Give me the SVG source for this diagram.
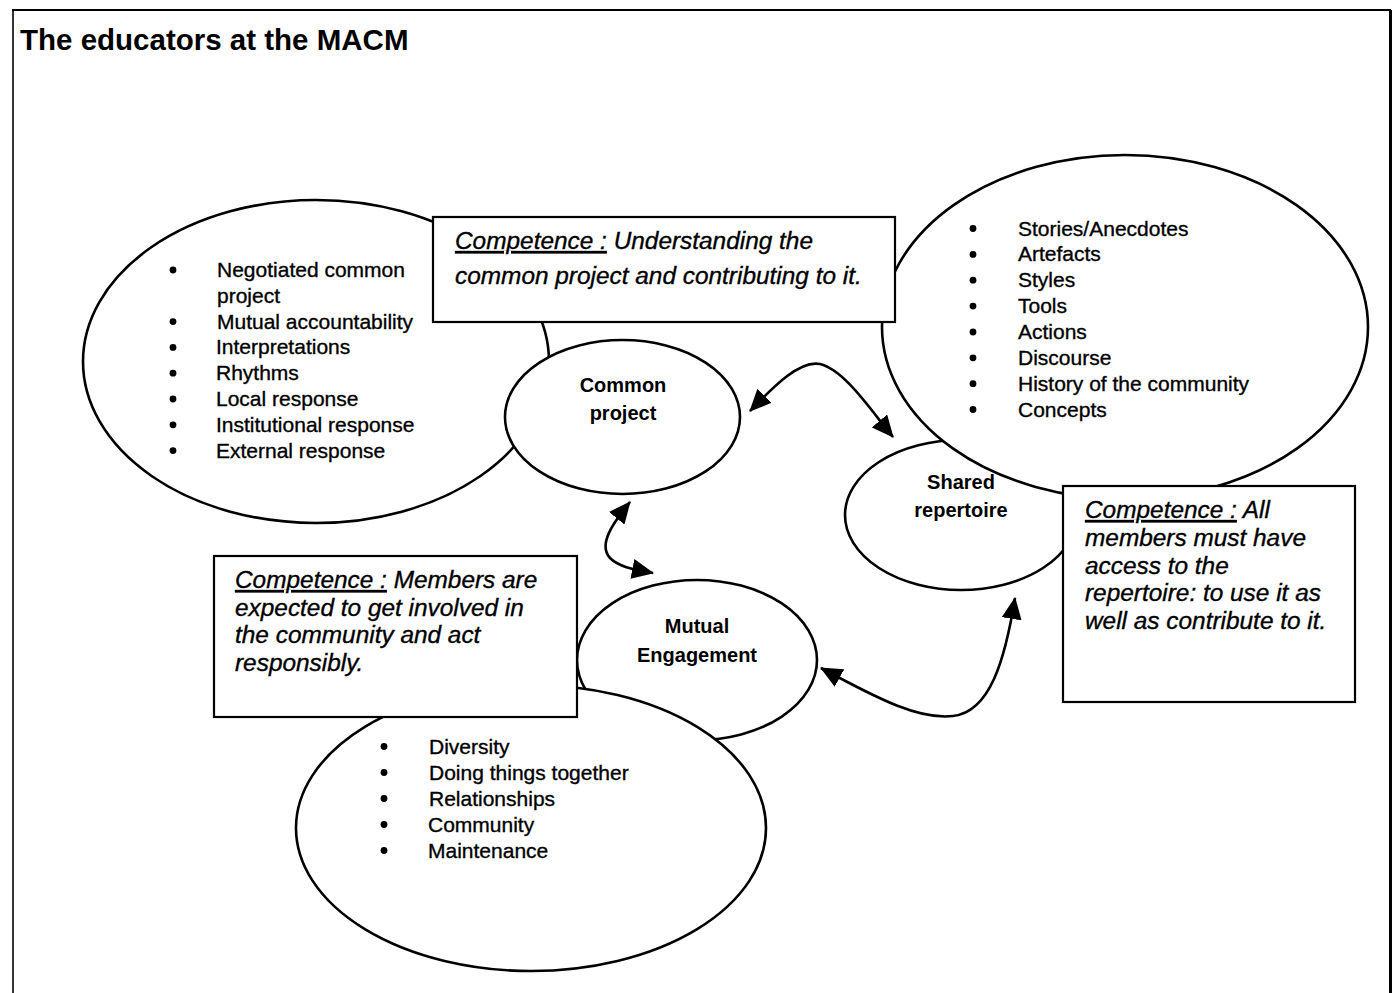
<svg xmlns="http://www.w3.org/2000/svg" width="1397" height="993" viewBox="0 0 1397 993">
  <style>
    .frame { stroke: #000; fill: none; }
    .oval { fill: #fff; stroke: #000; stroke-width: 2.6; }
    .box { fill: #fff; stroke: #000; stroke-width: 2.2; }
    .title { font-family: "Liberation Sans", Arial, sans-serif; font-weight: bold; font-size: 29.5px; fill: #000; }
    .label { font-family: "Liberation Sans", Arial, sans-serif; font-weight: bold; font-size: 20px; fill: #000; text-anchor: middle; }
    .item { font-family: "Liberation Sans", Arial, sans-serif; font-size: 21px; fill: #000; stroke: #000; stroke-width: 0.35; }
    .note { font-family: "Liberation Sans", Arial, sans-serif; font-style: italic; font-size: 24.4px; fill: #000; stroke: #000; stroke-width: 0.35; }
    .u { text-decoration: underline; }
    .dot { fill: #000; }
    .link { fill: none; stroke: #000; stroke-width: 2.6; marker-start: url(#head); marker-end: url(#head); }
  </style>
  <defs>
    <marker id="head" markerUnits="userSpaceOnUse" markerWidth="22" markerHeight="20" viewBox="0 0 22 20" refX="21" refY="10" orient="auto-start-reverse">
      <path d="M0,0 L22,10 L0,20 Z" fill="#000"/>
    </marker>
    <!-- everything except the interior of the repertoire list oval -->
    <clipPath id="outsideRepertoire">
      <path clip-rule="evenodd" d="M0,0 H1397 V993 H0 Z M882,327 A243,172 0 1,0 1368,327 A243,172 0 1,0 882,327 Z"/>
    </clipPath>
  </defs>

  <rect width="1397" height="993" fill="#fff"/>

  <!-- outer frame (open at the bottom) -->
  <g id="frame">
    <line class="frame" x1="12" y1="10" x2="1391" y2="10" stroke-width="2"/>
    <line class="frame" x1="13" y1="10" x2="13" y2="993" stroke-width="1.6"/>
    <line class="frame" x1="1390.5" y1="10" x2="1390.5" y2="993" stroke-width="3"/>
    <text class="title" x="20" y="50">The educators at the MACM</text>
  </g>

  <!-- joint enterprise characteristics -->
  <g id="node-enterprise-list">
    <ellipse class="oval" cx="316" cy="361.5" rx="233" ry="161.5"/>
    <circle class="dot" cx="173" cy="270" r="3.4"/>
    <circle class="dot" cx="173" cy="321.6" r="3.4"/>
    <circle class="dot" cx="173" cy="347.4" r="3.4"/>
    <circle class="dot" cx="173" cy="373.2" r="3.4"/>
    <circle class="dot" cx="173" cy="399" r="3.4"/>
    <circle class="dot" cx="173" cy="424.8" r="3.4"/>
    <circle class="dot" cx="173" cy="450.6" r="3.4"/>
    <text class="item" x="217" y="277">Negotiated common</text>
    <text class="item" x="217" y="302.8">project</text>
    <text class="item" x="217" y="328.6">Mutual accountability</text>
    <text class="item" x="216" y="354.4">Interpretations</text>
    <text class="item" x="216" y="380.2">Rhythms</text>
    <text class="item" x="216" y="406">Local response</text>
    <text class="item" x="216" y="431.8">Institutional response</text>
    <text class="item" x="216" y="457.6">External response</text>
  </g>

  <g id="node-common-project">
    <ellipse class="oval" cx="622.5" cy="417" rx="117.5" ry="77"/>
    <text class="label" x="623" y="392">Common</text>
    <text class="label" x="623" y="420">project</text>
  </g>

  <!-- shared repertoire characteristics -->
  <g id="node-repertoire-list">
    <ellipse class="oval" cx="1125" cy="327" rx="243" ry="172"/>
    <circle class="dot" cx="973" cy="228.5" r="3.4"/>
    <circle class="dot" cx="973" cy="254.4" r="3.4"/>
    <circle class="dot" cx="973" cy="280.2" r="3.4"/>
    <circle class="dot" cx="973" cy="306.1" r="3.4"/>
    <circle class="dot" cx="973" cy="332" r="3.4"/>
    <circle class="dot" cx="973" cy="357.8" r="3.4"/>
    <circle class="dot" cx="973" cy="383.7" r="3.4"/>
    <circle class="dot" cx="973" cy="409.5" r="3.4"/>
    <text class="item" x="1018" y="235.5">Stories/Anecdotes</text>
    <text class="item" x="1018" y="261.4">Artefacts</text>
    <text class="item" x="1018" y="287.2">Styles</text>
    <text class="item" x="1018" y="313.1">Tools</text>
    <text class="item" x="1018" y="339">Actions</text>
    <text class="item" x="1018" y="364.8">Discourse</text>
    <text class="item" x="1018" y="390.7">History of the community</text>
    <text class="item" x="1018" y="416.5">Concepts</text>
  </g>

  <g id="node-shared-repertoire">
    <ellipse class="oval" cx="961" cy="515" rx="116" ry="75" style="fill:none" clip-path="url(#outsideRepertoire)"/>
    <text class="label" x="961" y="489">Shared</text>
    <text class="label" x="961" y="517">repertoire</text>
  </g>

  <g id="node-competence-project">
    <rect class="box" x="433" y="217" width="462" height="105"/>
    <text class="note" x="455" y="249"><tspan class="u">Competence :</tspan> Understanding the</text>
    <text class="note" x="455" y="284">common project and contributing to it.</text>
  </g>

  <g id="node-competence-repertoire">
    <rect class="box" x="1063" y="486" width="292" height="216"/>
    <text class="note" x="1085" y="518"><tspan class="u">Competence :</tspan> All</text>
    <text class="note" x="1085" y="546">members must have</text>
    <text class="note" x="1085" y="573.5">access to the</text>
    <text class="note" x="1085" y="601">repertoire: to use it as</text>
    <text class="note" x="1085" y="629">well as contribute to it.</text>
  </g>

  <g id="node-mutual-engagement">
    <ellipse class="oval" cx="697" cy="660" rx="120" ry="80"/>
    <text class="label" x="697" y="633">Mutual</text>
    <text class="label" x="697" y="662">Engagement</text>
  </g>

  <!-- mutual engagement characteristics -->
  <g id="node-engagement-list">
    <ellipse class="oval" cx="531" cy="828" rx="235" ry="143"/>
    <circle class="dot" cx="384" cy="746.5" r="3.4"/>
    <circle class="dot" cx="384" cy="772.5" r="3.4"/>
    <circle class="dot" cx="384" cy="798.5" r="3.4"/>
    <circle class="dot" cx="384" cy="824.5" r="3.4"/>
    <circle class="dot" cx="384" cy="850.5" r="3.4"/>
    <text class="item" x="429" y="753.5">Diversity</text>
    <text class="item" x="429" y="779.5">Doing things together</text>
    <text class="item" x="429" y="805.5">Relationships</text>
    <text class="item" x="428" y="831.5">Community</text>
    <text class="item" x="428" y="857.5">Maintenance</text>
  </g>

  <g id="node-competence-engagement">
    <rect class="box" x="214" y="556" width="363" height="161"/>
    <text class="note" x="235" y="588"><tspan class="u">Competence :</tspan> Members are</text>
    <text class="note" x="235" y="615.5">expected to get involved in</text>
    <text class="note" x="235" y="643">the community and act</text>
    <text class="note" x="235" y="671">responsibly.</text>
  </g>

  <!-- double-headed curved connectors -->
  <g id="connectors">
    <path class="link" d="M750,411 C775,385 800,360 820,364 C845,370 872,412 893,437"/>
    <path class="link" d="M630,502 C612,524 598,545 610,558 C620,568 638,570 653,573"/>
    <path class="link" d="M821,668 C880,700 920,720 953,716 C990,712 1005,660 1015,598"/>
  </g>
</svg>
